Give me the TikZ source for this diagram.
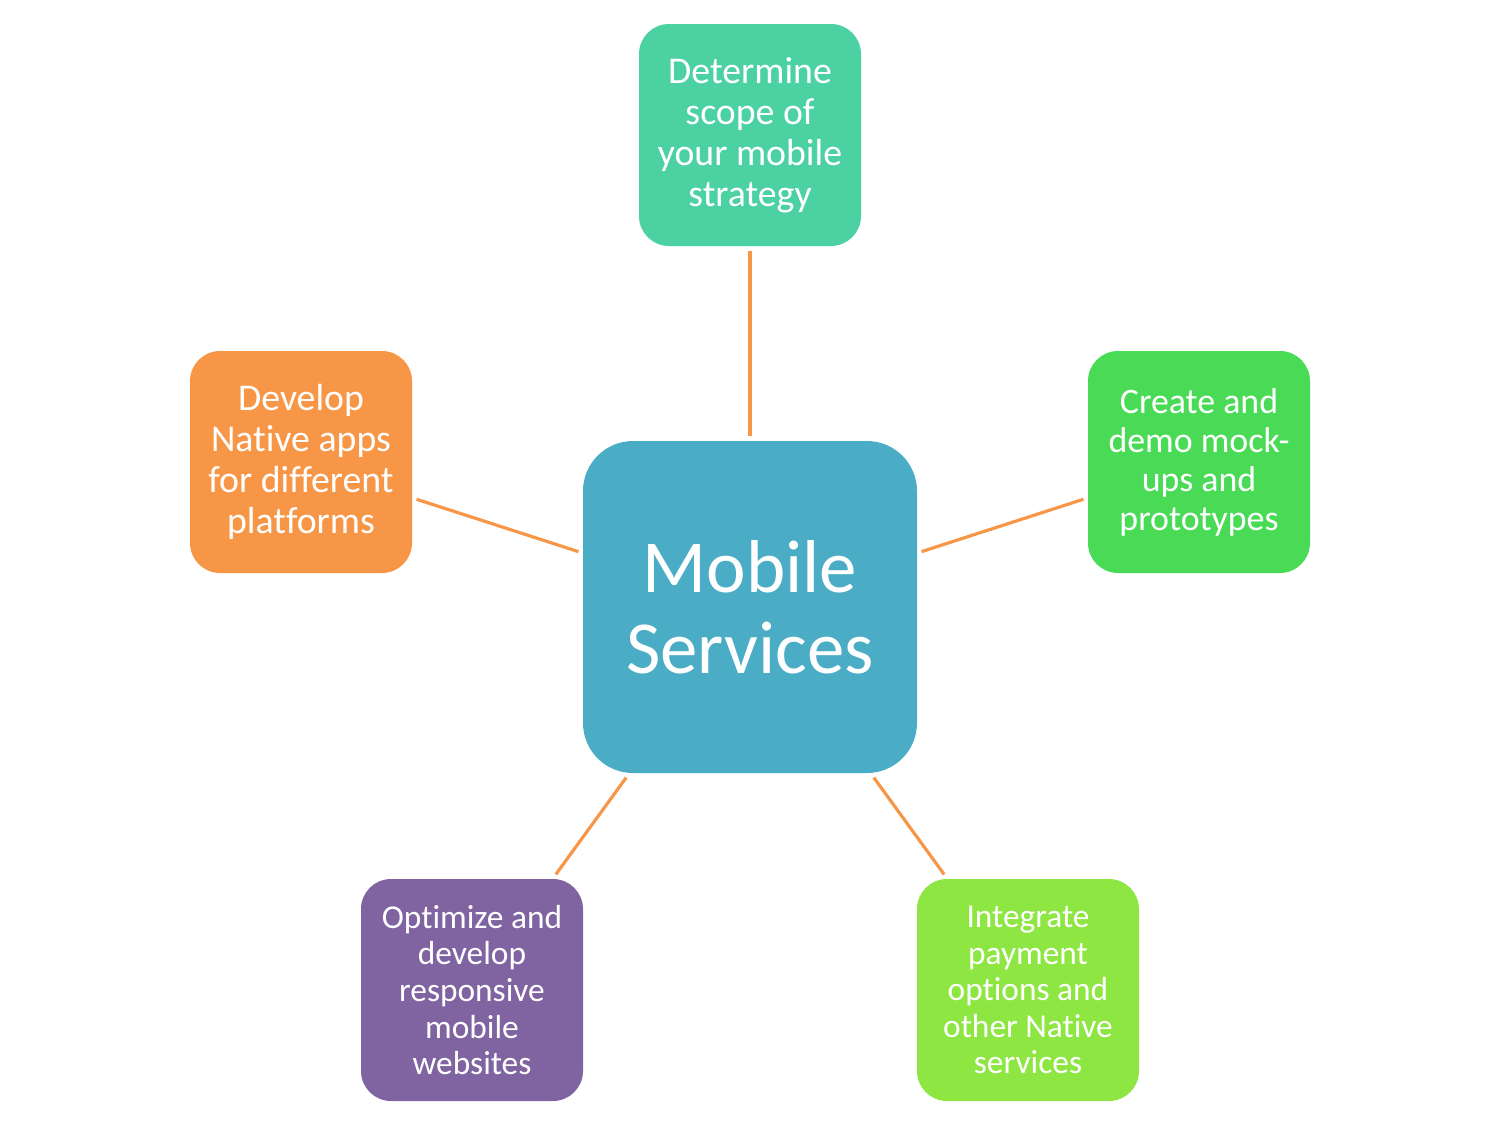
\documentclass[tikz,border=0pt]{standalone}
\usepackage{fontspec}
\setmainfont{Carlito}[Ligatures={NoCommon,NoContextual}]
\usetikzlibrary{positioning}
\definecolor{hubblue}{HTML}{4BACC6}
\definecolor{scopegreen}{HTML}{4BD1A2}
\definecolor{mockgreen}{HTML}{4ADB56}
\definecolor{paylime}{HTML}{8EE642}
\definecolor{webpurple}{HTML}{8064A2}
\definecolor{appsorange}{HTML}{F79646}
\definecolor{linkorange}{HTML}{F79646}
\begin{document}
\begin{tikzpicture}[
    box/.style={rectangle, rounded corners=0.3cm, minimum width=2.22cm, minimum height=2.22cm,
      text=white, align=center, inner sep=0pt, outer sep=1.3pt},
    hub/.style={box, fill=hubblue, rounded corners=0.5cm, minimum width=3.34cm, minimum height=3.32cm,
      font=\fontsize{21.3}{23}\selectfont},
    link/.style={draw=linkorange, line width=0.9pt}]
      \useasboundingbox (0,0) rectangle (15,-11.25);

      % centre
      \node[hub] (mobile) at (7.5,-6.07) {Mobile\\Services};

      % the five steps
      \node[box, fill=scopegreen, font=\fontsize{10.75}{11.7}\selectfont] (scope) at (7.5,-1.35)
        {Determine\\scope of\\your mobile\\strategy};
      \node[box, fill=mockgreen, font=\fontsize{10.2}{11.1}\selectfont] (mockups) at (11.99,-4.62)
        {Create and\\demo mock-\\ups and\\prototypes};
      \node[box, fill=appsorange, font=\fontsize{10.75}{11.7}\selectfont] (native) at (3.01,-4.62)
        {Develop\\Native apps\\for different\\platforms};
      \node[box, fill=webpurple, font=\fontsize{9.5}{10.4}\selectfont] (websites) at (4.72,-9.90)
        {Optimize and\\develop\\responsive\\mobile\\websites};
      \node[box, fill=paylime, font=\fontsize{9.5}{10.4}\selectfont] (payment) at (10.28,-9.90)
        {Integrate\\payment\\options and\\other Native\\services};

      \draw[link] (mobile) -- (scope);
      \draw[link] (mobile) -- (mockups);
      \draw[link] (mobile) -- (native);
      \draw[link] (mobile) -- (websites);
      \draw[link] (mobile) -- (payment);
\end{tikzpicture}
\end{document}
